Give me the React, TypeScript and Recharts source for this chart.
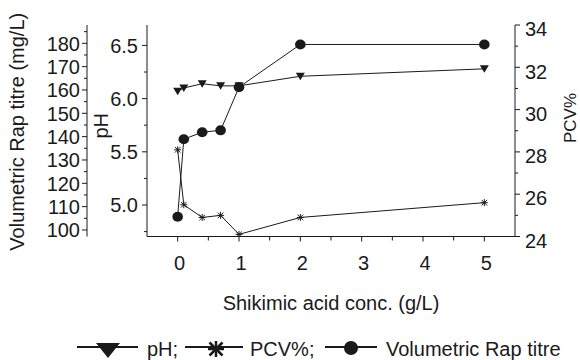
import React from 'react';
import { LineChart, Line, XAxis, YAxis } from 'recharts';

// Shikimic acid concentrations (g/L)
const conc = [0, 0.1, 0.4, 0.7, 1, 2, 5];
const phValues = [6.07, 6.1, 6.14, 6.12, 6.12, 6.21, 6.28];
const pcvValues = [28.1, 25.5, 24.9, 25.0, 24.1, 24.9, 25.6];
const rapValues = [105.7, 138.9, 141.9, 142.7, 161.2, 179.5, 179.5];

const xTicks = [0, 0.5, 1, 1.5, 2, 2.5, 3, 3.5, 4, 4.5, 5];
const phTicks = [4.75, 5, 5.25, 5.5, 5.75, 6, 6.25, 6.5];
const rapTicks = [100, 105, 110, 115, 120, 125, 130, 135, 140, 145, 150, 155, 160, 165, 170, 175, 180, 185];
const pcvTicks = [24, 25, 26, 27, 28, 29, 30, 31, 32, 33, 34];

const seriesNames = ['pH', 'PCV%', 'Volumetric Rap titre'];

const data = conc.map((c, i) => ({ conc: c, ph: phValues[i], pcv: pcvValues[i], rap: rapValues[i] }));

const FONT = '"Liberation Sans", Arial, sans-serif';
const INK = '#1a1a1a';

const textStyle = { fontFamily: FONT, fontSize: 20, fill: INK };

// y tick on a left axis: line pointing out, label only on majors
const leftTick = (isMajor: (v: number) => boolean, fmt: (v: number) => string, gap: number) => (p: any) => {
    const v = p.payload.value;
    const major = isMajor(v);
    return (
        <g>
            <line x1={p.x - (major ? 5 : 3)} x2={p.x} y1={p.y} y2={p.y} stroke={INK} strokeWidth={1} />
            {major && (
                <text x={p.x - gap} y={p.y} dy="0.36em" textAnchor="end" {...textStyle}>
                    {fmt(v)}
                </text>
            )}
        </g>
    );
};

const rightTick = (p: any) => {
    const v = p.payload.value;
    const major = v % 2 === 0;
    return (
        <g>
            <line x1={p.x} x2={p.x + (major ? 5 : 3)} y1={p.y} y2={p.y} stroke={INK} strokeWidth={1} />
            {major && (
                <text x={p.x + 10} y={p.y + 4} dy="0.36em" textAnchor="start" {...textStyle}>
                    {v}
                </text>
            )}
        </g>
    );
};

const bottomTick = (p: any) => {
    const v = p.payload.value;
    const major = Number.isInteger(v);
    return (
        <g>
            <line x1={p.x} x2={p.x} y1={p.y} y2={p.y + (major ? 5 : 4)} stroke={INK} strokeWidth={1} />
            {major && (
                <text x={p.x + 2} y={p.y + 33.5} textAnchor="middle" {...textStyle}>
                    {v}
                </text>
            )}
        </g>
    );
};

const topTick = (p: any) => (
    <line x1={p.x} x2={p.x} y1={p.y} y2={p.y + 5} stroke={INK} strokeWidth={1} />
);

// markers
const Triangle = (p: any) => {
    const { cx, cy } = p;
    if (cx == null || cy == null) return <g />;
    return <path d={`M${cx - 4.5},${cy - 3.5}L${cx + 4.5},${cy - 3.5}L${cx},${cy + 4}Z`} fill={INK} />;
};

const Dot = (p: any) => {
    const { cx, cy } = p;
    if (cx == null || cy == null) return <g />;
    return <ellipse cx={cx} cy={cy} rx={5.3} ry={5} fill={INK} />;
};

const Star = (p: any) => {
    const { cx, cy } = p;
    if (cx == null || cy == null) return <g />;
    const r = 3.5;
    const d = r * 0.8;
    return (
        <g stroke={INK} strokeWidth={1}>
            <line x1={cx - r} x2={cx + r} y1={cy} y2={cy} />
            <line x1={cx} x2={cx} y1={cy - r} y2={cy + r} />
            <line x1={cx - d} x2={cx + d} y1={cy - d} y2={cy + d} />
            <line x1={cx - d} x2={cx + d} y1={cy + d} y2={cy - d} />
        </g>
    );
};

const rotLabel = (text: string, dx: number, dy: number, size = 20) => ({ viewBox }: any) => {
    const x = viewBox.x + dx;
    const y = viewBox.y + viewBox.height / 2 + dy;
    return (
        <text transform={`translate(${x},${y}) rotate(-90)`} textAnchor="middle" {...textStyle} fontSize={size}>
            {text}
        </text>
    );
};

function Legend() {
    const y = 22;
    return (
        <svg width={580} height={35} style={{ position: 'absolute', left: 0, top: 325, pointerEvents: 'none' }}>
            <g stroke={INK} strokeWidth={2}>
                <line x1={77} x2={138} y1={y} y2={y} />
                <line x1={185} x2={243} y1={y} y2={y} />
                <line x1={325} x2={377} y1={y} y2={y} />
            </g>
            <path d="M96,18L120,18L108,33Z" fill={INK} />
            <g stroke={INK} strokeWidth={2.5}>
                <line x1={208} x2={224} y1={24} y2={24} />
                <line x1={216} x2={216} y1={16} y2={32} />
                <line x1={209.5} x2={222.5} y1={17.5} y2={30.5} />
                <line x1={209.5} x2={222.5} y1={30.5} y2={17.5} />
            </g>
            <circle cx={351} cy={23} r={7} fill={INK} />
            <text x={147} y={31} {...textStyle}>{seriesNames[0]};</text>
            <text x={250} y={31} {...textStyle}>{seriesNames[1]};</text>
            <text x={386} y={31} {...textStyle}>{seriesNames[2]}</text>
        </svg>
    );
}

export default function App() {
    return (
        <div style={{ position: 'absolute', left: 0, top: 0, width: 580, height: 360, background: '#fff' }}>
            <LineChart width={580} height={360} data={data} margin={{ top: 25, right: 0, bottom: 63.5, left: 0 }}>
                <XAxis
                    dataKey="conc"
                    type="number"
                    domain={[-0.5, 5.5]}
                    ticks={xTicks}
                    interval={0}
                    height={60}
                    tickSize={0}
                    tickMargin={0}
                    tickLine={false}
                    tick={bottomTick}
                    stroke={INK}
                    allowDataOverflow
                    label={{
                        content: ({ viewBox }: any) => (
                            <text x={viewBox.x + viewBox.width / 2} y={viewBox.y + 73.5} textAnchor="middle" {...textStyle}>
                                Shikimic acid conc. (g/L)
                            </text>
                        ),
                    }}
                />
                <XAxis
                    xAxisId="top"
                    dataKey="conc"
                    type="number"
                    orientation="top"
                    domain={[-0.5, 5.5]}
                    ticks={xTicks}
                    interval={0}
                    height={0}
                    tickSize={0}
                    tickMargin={0}
                    tickLine={false}
                    tick={topTick}
                    stroke={INK}
                    allowDataOverflow
                />
                <YAxis
                    yAxisId="ph"
                    orientation="left"
                    type="number"
                    domain={[4.704, 6.692]}
                    ticks={phTicks}
                    interval={0}
                    width={60}
                    tickSize={0}
                    tickMargin={0}
                    tickLine={false}
                    tick={leftTick((v) => Math.abs(v * 2 - Math.round(v * 2)) < 1e-6, (v) => v.toFixed(1), 9)}
                    stroke={INK}
                    allowDataOverflow
                    label={{ content: rotLabel('pH', 21, -5) }}
                />
                <YAxis
                    yAxisId="rap"
                    orientation="left"
                    type="number"
                    domain={[97.2, 187.85]}
                    ticks={rapTicks}
                    interval={0}
                    width={87}
                    tickSize={0}
                    tickMargin={0}
                    tickLine={false}
                    tick={leftTick((v) => v % 10 === 0, (v) => String(v), 7)}
                    stroke={INK}
                    allowDataOverflow
                    label={{ content: rotLabel('Volumetric Rap titre (mg/L)', 24, 1) }}
                />
                <YAxis
                    yAxisId="pcv"
                    orientation="right"
                    type="number"
                    domain={[24, 34]}
                    ticks={pcvTicks}
                    interval={0}
                    width={65}
                    tickSize={0}
                    tickMargin={0}
                    tickLine={false}
                    tick={rightTick}
                    stroke={INK}
                    allowDataOverflow
                    label={{ content: rotLabel('PCV%', 60.5, -12.75, 17) }}
                />
                <Line
                    yAxisId="pcv"
                    dataKey="pcv"
                    name={seriesNames[1]}
                    type="linear"
                    stroke={INK}
                    strokeWidth={1}
                    dot={Star}
                    activeDot={false}
                    isAnimationActive={false}
                />
                <Line
                    yAxisId="ph"
                    dataKey="ph"
                    name={seriesNames[0]}
                    type="linear"
                    stroke={INK}
                    strokeWidth={1}
                    dot={Triangle}
                    activeDot={false}
                    isAnimationActive={false}
                />
                <Line
                    yAxisId="rap"
                    dataKey="rap"
                    name={seriesNames[2]}
                    type="linear"
                    stroke={INK}
                    strokeWidth={1}
                    dot={Dot}
                    activeDot={false}
                    isAnimationActive={false}
                />
            </LineChart>
            <Legend />
        </div>
    );
}
